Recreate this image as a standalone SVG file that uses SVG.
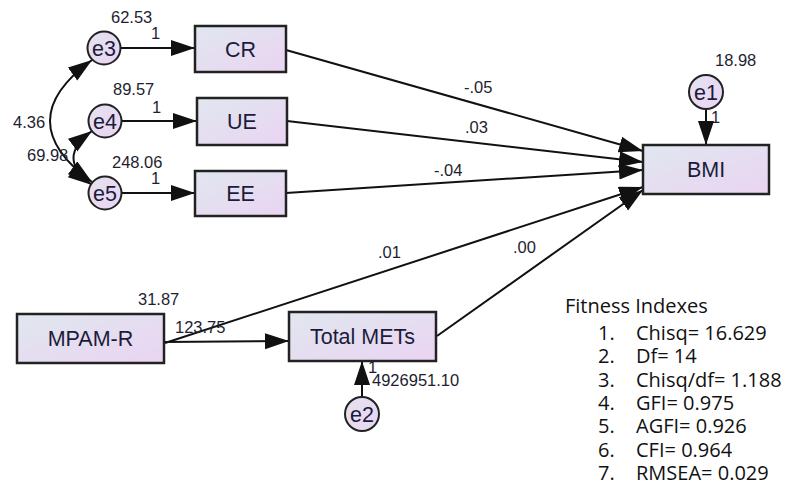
<svg xmlns="http://www.w3.org/2000/svg" width="805" height="504" viewBox="0 0 805 504">
<style>
.box{stroke:#222;stroke-width:2.5;fill:url(#bg)}
.cir{stroke:#222;stroke-width:2;fill:url(#cg)}
.lbl{font-family:"Liberation Sans",Arial,sans-serif;font-size:21.5px;fill:#1c1c3a;text-anchor:middle}
.num{font-family:"Liberation Sans",Arial,sans-serif;font-size:16.5px;fill:#1e1e30}
.fit{font-family:"Open Sans","Noto Sans",sans-serif;font-size:20px;fill:#111}
.ln{stroke:#111;stroke-width:2;fill:none}
</style>
<defs>
<linearGradient id="bg" x1="0" y1="0" x2="1" y2="1">
<stop offset="0" stop-color="#e0e7ef"/>
<stop offset="1" stop-color="#ead4f2"/>
</linearGradient>
<linearGradient id="cg" x1="0" y1="0" x2="1" y2="1">
<stop offset="0" stop-color="#e4e2f0"/>
<stop offset="1" stop-color="#ead4f2"/>
</linearGradient>
<marker id="ah" markerUnits="userSpaceOnUse" markerWidth="26" markerHeight="18" refX="24" refY="8" orient="auto-start-reverse" viewBox="0 0 26 18">
<path d="M0,0 L24,8 L0,16 z" fill="#111"/>
</marker>
</defs>
<g id="connectors">
<path class="ln" d="M121,48 L195,48" marker-end="url(#ah)"/>
<path class="ln" d="M122,121 L197,121" marker-end="url(#ah)"/>
<path class="ln" d="M122,193 L195,193" marker-end="url(#ah)"/>
<path class="ln" d="M92,60 Q8,121 92,182" marker-start="url(#ah)" marker-end="url(#ah)"/>
<path class="ln" d="M92,131 Q55,158 92,185" marker-start="url(#ah)" marker-end="url(#ah)"/>
<path class="ln" d="M286,50 L643,151" marker-end="url(#ah)"/>
<path class="ln" d="M287,121 L643,162" marker-end="url(#ah)"/>
<path class="ln" d="M286,193 L643,170" marker-end="url(#ah)"/>
<path class="ln" d="M165,343 L643,187" marker-end="url(#ah)"/>
<path class="ln" d="M437,336 L643,190" marker-end="url(#ah)"/>
<path class="ln" d="M164,342 L289,341" marker-end="url(#ah)"/>
<path class="ln" d="M362,397 L362,361" marker-end="url(#ah)"/>
<path class="ln" d="M706,109 L706,145" marker-end="url(#ah)"/>
</g>
<g id="e3"><circle class="cir" cx="104" cy="48" r="16.5"/><text class="lbl" x="104" y="55.5">e3</text></g>
<g id="e4"><circle class="cir" cx="105" cy="121" r="16.5"/><text class="lbl" x="105" y="128.5">e4</text></g>
<g id="e5"><circle class="cir" cx="105" cy="193" r="16.5"/><text class="lbl" x="105" y="200.5">e5</text></g>
<g id="e1"><circle class="cir" cx="706" cy="92" r="17"/><text class="lbl" x="706" y="99.5">e1</text></g>
<g id="e2"><circle class="cir" cx="362" cy="414" r="17"/><text class="lbl" x="362" y="421.5">e2</text></g>
<g id="CR"><rect class="box" x="195" y="26" width="91" height="46"/><text class="lbl" x="240.5" y="57">CR</text></g>
<g id="UE"><rect class="box" x="197" y="98" width="90" height="47"/><text class="lbl" x="242" y="129">UE</text></g>
<g id="EE"><rect class="box" x="195" y="171" width="91" height="45"/><text class="lbl" x="240.5" y="201">EE</text></g>
<g id="BMI"><rect class="box" x="643" y="145" width="126" height="49"/><text class="lbl" x="706" y="177">BMI</text></g>
<g id="MPAM-R"><rect class="box" x="17" y="314" width="147" height="49"/><text class="lbl" x="90.5" y="346">MPAM-R</text></g>
<g id="TotalMETs"><rect class="box" x="289" y="312" width="147" height="49"/><text class="lbl" x="362.5" y="344">Total METs</text></g>
<g id="labels">
<text class="num" x="111" y="23">62.53</text>
<text class="num" x="151" y="39">1</text>
<text class="num" x="113" y="95">89.57</text>
<text class="num" x="152" y="113">1</text>
<text class="num" x="112" y="168">248.06</text>
<text class="num" x="151" y="184">1</text>
<text class="num" x="13" y="128">4.36</text>
<text class="num" x="27" y="161">69.98</text>
<text class="num" x="715" y="66">18.98</text>
<text class="num" x="711" y="123">1</text>
<text class="num" x="464" y="93">-.05</text>
<text class="num" x="465" y="133">.03</text>
<text class="num" x="434" y="176">-.04</text>
<text class="num" x="378" y="258">.01</text>
<text class="num" x="513" y="253">.00</text>
<text class="num" x="138" y="305">31.87</text>
<text class="num" x="175" y="333">123.75</text>
<text class="num" x="368" y="373">1</text>
<text class="num" x="372" y="386">4926951.10</text>
</g>
<g id="fitness">
<text class="fit" x="565" y="313">Fitness Indexes</text>
<text class="fit" x="598" y="340">1.</text><text class="fit" x="636" y="340">Chisq= 16.629</text>
<text class="fit" x="598" y="363">2.</text><text class="fit" x="636" y="363">Df= 14</text>
<text class="fit" x="598" y="387">3.</text><text class="fit" x="636" y="387">Chisq/df= 1.188</text>
<text class="fit" x="598" y="410">4.</text><text class="fit" x="636" y="410">GFI= 0.975</text>
<text class="fit" x="598" y="433">5.</text><text class="fit" x="636" y="433">AGFI= 0.926</text>
<text class="fit" x="598" y="457">6.</text><text class="fit" x="636" y="457">CFI= 0.964</text>
<text class="fit" x="598" y="480">7.</text><text class="fit" x="636" y="480">RMSEA= 0.029</text>
</g>
</svg>
